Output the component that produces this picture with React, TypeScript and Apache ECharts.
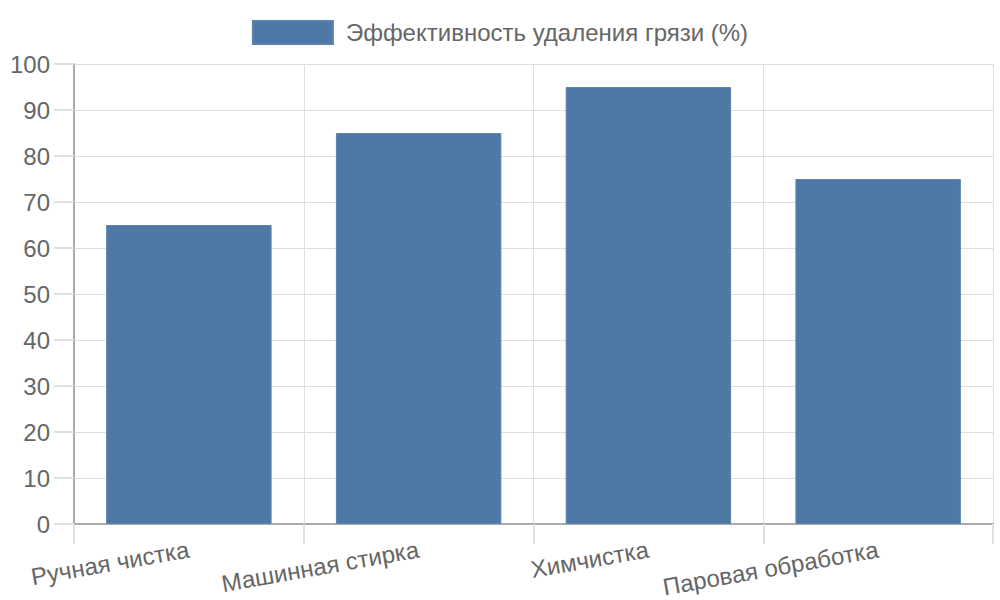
import React, { useEffect, useRef } from "react";
import * as echarts from "echarts";

const categories = ["Ручная чистка", "Машинная стирка", "Химчистка", "Паровая обработка"];
const efficiency = [65, 85, 95, 75];
const seriesName = "Эффективность удаления грязи (%)";

export default function App() {
  const ref = useRef<HTMLDivElement>(null);
  useEffect(() => {
    if (!ref.current) return;
    const chart = echarts.init(ref.current, undefined, { renderer: "svg" });
    const font = "Liberation Sans, Arial, sans-serif";
    chart.setOption({
      animation: false,
      textStyle: { fontFamily: font },
      legend: {
        top: 15,
        left: "center",
        itemWidth: 80,
        itemHeight: 23,
        itemGap: 10,
        textStyle: { fontSize: 24, color: "#666", fontFamily: font, padding: [0, 0, 0, 8] },
        data: [{ name: seriesName, icon: "rect" }],
      },
      grid: { left: 74, right: 7, top: 64, bottom: 76, containLabel: false, outerBoundsMode: "none" },
      xAxis: {
        type: "category",
        data: categories,
        boundaryGap: true,
        axisLine: { show: true, lineStyle: { color: "#aaa", width: 2 } },
        axisTick: { show: true, length: 20, lineStyle: { color: "#e0e0e0", width: 2 } },
        splitLine: { show: true, lineStyle: { color: "#e0e0e0", width: 1 } },
        axisLabel: { rotate: 10, margin: 25, fontSize: 24, color: "#666", fontFamily: font, interval: 0 },
      },
      yAxis: {
        type: "value",
        min: 0,
        max: 100,
        interval: 10,
        axisLine: { show: true, lineStyle: { color: "#aaa", width: 2 } },
        axisTick: { show: true, length: 20, lineStyle: { color: "#e0e0e0", width: 2 } },
        splitLine: { show: true, lineStyle: { color: "#e0e0e0", width: 1 } },
        axisLabel: { margin: 24, fontSize: 24, color: "#666", fontFamily: font },
      },
      series: [
        {
          name: seriesName,
          type: "bar",
          data: efficiency,
          barCategoryGap: "28%",
          itemStyle: { color: "#4e79a7", borderColor: "#5a82ad", borderWidth: 1 },
        },
      ],
    });
    return () => chart.dispose();
  }, []);
  return <div ref={ref} style={{ width: 1000, height: 600, position: "absolute", left: 0, top: 0 }} />;
}
